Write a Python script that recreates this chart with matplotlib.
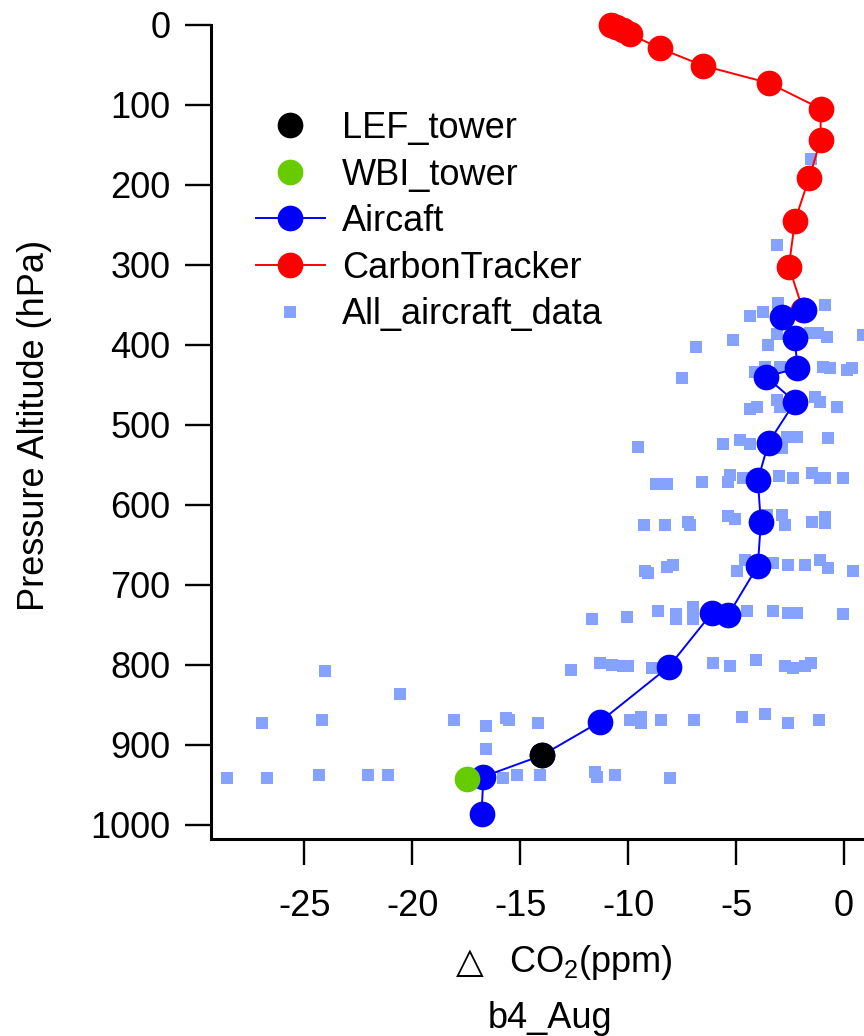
import matplotlib
matplotlib.use('Agg')
import matplotlib.pyplot as plt
from matplotlib.lines import Line2D

plt.rcParams['font.family'] = ['Liberation Sans', 'DejaVu Sans']
plt.rcParams['mathtext.fontset'] = 'custom'
plt.rcParams['mathtext.rm'] = 'Liberation Sans'
plt.rcParams['mathtext.it'] = 'Liberation Sans:italic'
plt.rcParams['axes.unicode_minus'] = False

# All aircraft data (delta CO2 in ppm, pressure in hPa)
all_x = [-1.53, -3.10,
         -4.36, -3.75, -3.06, -0.88,
         -6.86, -5.14, -3.52, -3.10, -1.58, -1.20, -0.79, 0.88,
         -7.51, -4.12, -3.66, -2.97, -0.97, -0.65, 0.14, 0.37,
         -4.36, -4.03, -3.10, -2.97, -1.34, -1.11, -0.32,
         -9.55, -5.61, -4.82, -4.36, -2.64, -2.18, -2.87, -0.74,
         -8.71, -8.20, -6.58, -5.38, -5.28, -4.68, -3.01, -2.36, -1.48, -1.11, -0.88, -0.05,
         -9.27, -8.29, -7.23, -7.14, -5.38, -5.05, -3.57, -2.87, -2.73, -1.48, -0.88, -0.88,
         -9.22, -9.08, -8.20, -7.92, -4.96, -4.59, -3.29, -2.60, -1.81, -1.11, -0.74, 0.42,
         -11.68, -10.06, -8.62, -7.79, -7.79, -7.00, -7.00, -4.50, -3.29, -2.60, -2.18, -0.05,
         -24.05, -12.65, -11.31, -10.75, -10.24, -10.01, -8.90, -6.07, -5.28, -4.08, -2.73, -2.36, -1.81, -1.53,
         -20.57,
         -26.97, -24.19, -18.07, -16.59, -15.66, -15.52, -14.18, -9.92, -9.41, -9.41, -8.48, -6.95, -4.73, -3.66, -2.60, -1.16,
         -16.59,
         -28.59, -26.74, -24.33, -22.06, -21.13, -15.80, -15.15, -14.09, -11.54, -11.45, -10.61, -8.06]
all_p = [167.5, 275,
         363.8, 358.8, 347.5, 350,
         402.5, 393.8, 400, 386.3, 385, 385, 390, 387.5,
         441.3, 433.8, 427.5, 427.5, 427.5, 428.8, 431.3, 428.8,
         480, 477.5, 468.8, 477.5, 465, 471.3, 477.5,
         527.5, 523.8, 518.8, 523.8, 515, 515, 528.8, 516.3,
         573.8, 573.8, 571.3, 571.3, 562.5, 566.3, 563.8, 566.3, 560, 566.3, 566.3, 566.3,
         625, 625, 621.3, 625, 613.8, 617.5, 612.5, 612.5, 625, 621.3, 615, 622.5,
         682.5, 685, 677.5, 675, 682.5, 668.8, 672.5, 675, 675, 668.8, 678.8, 682.5,
         742.5, 740, 732.5, 736.3, 742.5, 727.5, 742.5, 732.5, 732.5, 735, 735, 736.3,
         807.5, 806.3, 797.5, 800, 801.3, 801.3, 803.8, 797.5, 801.3, 793.8, 801.3, 803.8, 801.3, 797.5,
         836.3,
         872.5, 868.8, 868.8, 876.3, 866.3, 868.8, 872.5, 868.8, 865, 872.5, 868.8, 868.8, 865, 861.3, 872.5, 868.8,
         905,
         941.3, 941.3, 937.5, 937.5, 937.5, 941.3, 937.5, 937.5, 933.8, 940, 937.5, 941.3]

# CarbonTracker profile
ct_x = [-10.80, -10.57, -10.24, -9.92, -8.53, -6.52, -3.48, -1.08, -1.08, -1.61, -2.27, -2.55, -1.90]
ct_p = [0, 2.5, 6.3, 11.3, 29.1, 50.9, 72.5, 104.6, 144, 191, 244.6, 302, 356]

# Aircraft profile
ac_x = [-1.84, -2.89, -2.27, -2.16, -3.61, -2.27, -3.49, -3.99, -3.85, -3.99,
        -5.36, -6.13, -8.11, -11.31, -14.0, -16.71, -16.79]
ac_p = [356, 364.6, 391.6, 429, 439.6, 470.9, 522, 568.8, 621.6, 676,
        737.5, 735.4, 802, 871, 913, 939.6, 986]

# Towers
lef_x = [-14.0]
lef_p = [913]
wbi_x = [-17.46]
wbi_p = [942.5]

sq_color = '#85a2ff'
green = '#66cc00'
ms = 18.5

fig = plt.figure(figsize=(8.64, 10.36), dpi=100)
ax = fig.add_axes([211 / 864, 1 - 839 / 1036, 1 - 211 / 864, (839 - 25) / 1036])

ax.plot(all_x, all_p, 's', color=sq_color, ms=8, mew=0, ls='none')
ax.plot(ct_x, ct_p, '-o', color='red', ms=ms, mew=0, lw=1.4, clip_on=False)
ax.plot(ac_x, ac_p, '-o', color='blue', ms=ms, mew=0, lw=1.4, clip_on=False)
ax.plot(lef_x, lef_p, 'o', color='black', ms=ms, mew=0)
ax.plot(wbi_x, wbi_p, 'o', color=green, ms=ms, mew=0)

ax.set_xlim(-29.33, 0.93)
ax.set_ylim(1017.5, 0)
ax.set_xticks([-25, -20, -15, -10, -5, 0])
ax.set_yticks(range(0, 1001, 100))
ax.spines['top'].set_visible(False)
ax.spines['right'].set_visible(False)
for s in ['left', 'bottom']:
    ax.spines[s].set_linewidth(2.2)
ax.tick_params(direction='out', length=19, width=1.7, pad=10, labelsize=26)
ax.tick_params(axis='x', pad=17)

handles = [
    Line2D([], [], marker='o', color='black', ls='none', ms=ms, mew=0),
    Line2D([], [], marker='o', color=green, ls='none', ms=ms, mew=0),
    Line2D([], [], marker='o', color='blue', lw=1.4, ms=ms, mew=0),
    Line2D([], [], marker='o', color='red', lw=1.4, ms=ms, mew=0),
    Line2D([], [], marker='s', color=sq_color, ls='none', ms=8, mew=0),
]
labels = ['LEF_tower', 'WBI_tower', 'Aircaft', 'CarbonTracker', 'All_aircraft_data']
fig.legend(handles, labels, loc='upper left', bbox_to_anchor=(256 / 864, 1 - 111 / 1036),
           frameon=False, fontsize=26, handlelength=1.91, handletextpad=0.47,
           labelspacing=0.32, borderpad=0, borderaxespad=0, numpoints=1)

fig.text(35 / 864, 1 - 425 / 1036, 'Pressure Altitude (hPa)', rotation=90,
         ha='center', va='center', fontsize=26)
fig.text(470 / 864, 1 - 963 / 1036, '\u25b3', ha='center', va='center', fontsize=26,
         family='DejaVu Sans')
fig.text(509 / 864, 1 - 963 / 1036, 'CO$_2$(ppm)', ha='left', va='center', fontsize=26)
fig.text(550 / 864, 1 - 1018 / 1036, 'b4_Aug', ha='center', va='center', fontsize=26)

fig.savefig('out.png', dpi=100)
